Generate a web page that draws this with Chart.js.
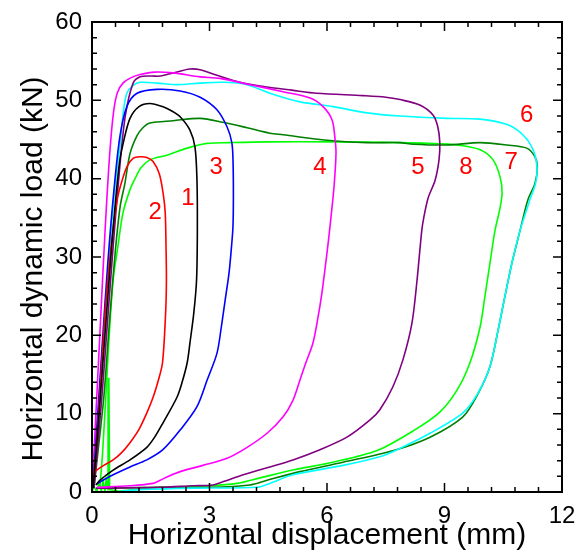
<!DOCTYPE html>
<html>
<head>
<meta charset="utf-8">
<script src="https://cdn.jsdelivr.net/npm/chart.js@4.4.1/dist/chart.umd.min.js"></script>
<style>
    html, body { margin: 0; padding: 0; background: #fff; }
</style>
</head>
<body>
<canvas id="LoadChart" width="580" height="552"></canvas>
<script>
// Loops: [displacement mm, load kN]
const loop1 = [[0.03,0.5],[0.15,8],[0.3,18],[0.45,28],[0.58,36],[0.7,42],[0.8,44.6],[0.97,47.7],[1.2,49.2],[1.48,49.6],[1.8,49.2],[2.05,48.6],[2.25,47.9],[2.5,46.2],[2.63,44],[2.68,39.8],[2.69,33.4],[2.67,27.1],[2.6,22.9],[2.5,19],[2.43,16.5],[2.3,14],[2.17,12.1],[1.81,8.8],[1.6,7],[1.4,5.7],[0.97,4.1],[0.54,2.8],[0.2,1.5],[0.1,0.9]];
const loop2 = [[0.02,0.5],[0.1,5],[0.22,14],[0.35,24],[0.5,32],[0.65,37.5],[0.77,39.8],[0.9,41.6],[1.05,42.6],[1.23,42.8],[1.4,42.7],[1.56,42.2],[1.72,40.6],[1.82,38],[1.87,35.6],[1.89,31.3],[1.9,27.1],[1.88,22.9],[1.8,16.5],[1.68,14],[1.56,12.1],[1.4,10.1],[1.2,8],[0.97,6.3],[0.75,5],[0.54,4.1],[0.3,3.4],[0.12,2.8],[0.03,2.4]];
const loop3 = [[0.02,0.5],[0.12,8],[0.25,18],[0.4,29],[0.55,38],[0.71,45.3],[0.89,49.2],[1.15,50.9],[1.66,51.4],[2.25,51.2],[2.76,50.4],[3.19,48.8],[3.45,46.6],[3.57,44.6],[3.6,42.4],[3.61,38],[3.6,34],[3.57,31.8],[3.5,28],[3.4,24.5],[3.3,21],[3.19,17.7],[2.94,14.3],[2.68,10.9],[2.25,7.9],[1.81,5.4],[1.4,4.1],[0.97,3.2],[0.54,2.2],[0.28,1.5],[0.12,1]];
const loop4 = [[0,0.5],[0.08,8],[0.2,20],[0.33,33],[0.45,43],[0.55,48.5],[0.65,51],[0.79,52.2],[1.0,52.9],[1.23,53.3],[1.6,53.6],[2.07,53.5],[2.76,53.0],[3.27,52.8],[4.03,52.0],[4.88,51.1],[5.57,50.3],[5.9,49.2],[6.13,47.5],[6.2,45.3],[6.23,43.3],[6.18,39],[6.1,35],[6.03,31.8],[5.95,28.5],[5.87,25.4],[5.76,22],[5.64,19],[5.46,16.5],[5.31,14.3],[5.13,11.7],[4.88,9.6],[4.47,7.5],[3.96,5.7],[3.45,4.3],[2.83,3.4],[2.25,2.6],[1.95,2],[1.74,1.5],[1.56,1.1],[0.97,0.8],[0.13,0.6]];
const loop5 = [[0.05,0.5],[0.13,5],[0.25,12],[0.4,22],[0.55,32],[0.7,41],[0.85,48],[1.05,52.2],[1.23,53],[1.5,53.1],[1.75,53.1],[2.07,53.5],[2.5,54],[2.76,53.9],[3.19,53.2],[3.78,52.3],[4.47,51.7],[5.1,51.3],[5.74,50.9],[6.92,50.6],[7.5,50.4],[7.86,50.1],[8.37,49.4],[8.71,48.1],[8.83,46.6],[8.88,44.6],[8.86,42.4],[8.76,39.8],[8.58,37.5],[8.47,35],[8.42,33.4],[8.3,27.1],[8.17,21.6],[7.94,16.9],[7.68,13.4],[7.35,10.5],[7.1,9.2],[6.51,7],[5.82,5.4],[5.13,4.1],[4.47,3.1],[3.86,2.2],[3.34,1.3],[3.09,0.9],[2.58,0.8],[1.74,0.6],[0.5,0.5],[0.1,0.5]];
const loop6 = [[0.02,0.5],[0.1,5],[0.22,14],[0.35,24],[0.5,34],[0.62,40.5],[0.71,44],[0.8,48.5],[0.89,50.9],[1.05,51.9],[1.23,52.3],[1.66,52.2],[2.17,52],[2.76,52.2],[3.34,52.3],[3.96,52],[4.54,50.9],[5.31,49.8],[6.15,49.2],[7.02,48.4],[7.86,48],[9.06,47.7],[9.91,47.6],[10.6,46.9],[11,45.6],[11.26,43.7],[11.36,41.5],[11.33,39.5],[11.18,37.3],[10.93,33.4],[10.72,29.2],[10.54,24.9],[10.37,20.7],[10.16,16],[9.85,12.6],[9.47,10.1],[8.63,7.5],[7.79,5.4],[7.35,4.5],[6.41,3.4],[5.13,2.2],[4.54,1.1],[4.21,0.6],[2.58,0.5],[1.2,0.3],[0.7,0.1]];
const loop7 = [[0.05,0.5],[0.15,5],[0.3,12],[0.45,22],[0.6,31],[0.72,36.5],[0.84,39.4],[0.97,43.2],[1.15,45.5],[1.3,46.5],[1.48,47.1],[2.07,47.4],[2.76,47.7],[3.34,47.2],[3.96,46.5],[4.54,45.8],[4.88,45.6],[6,44.9],[7.02,44.6],[7.86,44.6],[8.2,44.4],[9.06,44.3],[9.91,44.6],[10.6,44.3],[11.1,43.9],[11.31,42.8],[11.37,41.5],[11.31,39.4],[11.13,37.3],[10.93,33.4],[10.72,29.2],[10.54,24.9],[10.37,20.7],[10.16,16],[9.85,12.5],[9.47,9.6],[8.63,7],[7.7,5.3],[6.41,3.8],[5.31,2.6],[4.47,1.5],[4.03,0.9],[3.01,0.6],[1.74,0.6],[0.5,0.5]];
const loop8 = [[0.2,0.5],[0.27,5],[0.35,12],[0.44,20],[0.54,27.1],[0.66,31.3],[0.79,35.6],[0.97,38.6],[1.1,40],[1.25,41.4],[1.48,42.4],[1.91,43],[2.43,43.9],[2.94,44.5],[3.52,44.6],[4.47,44.7],[6.15,44.7],[7.86,44.6],[8.6,44.5],[9.32,44.3],[9.91,43.7],[10.24,42.4],[10.42,40.2],[10.47,38.2],[10.42,36.3],[10.29,33.4],[10.16,29.2],[10.03,24.9],[9.91,21.1],[9.65,16.5],[9.32,13],[8.88,10.2],[8.2,7.8],[7.28,5.3],[6.15,3.8],[5.13,2.8],[4.29,1.8],[3.7,1.1],[3.01,0.8],[1.74,0.6],[0.7,0.1]];
// noisy tail of loop 8 near the origin
const loop8Tail = [[0.7,0.1],[0.45,0.3],[0.43,14.6],[0.41,0.2],[0.36,1.6],[0.33,0.1],[0.28,1.4],[0.24,0.1],[0.18,1.2],[0.12,0],[0.05,0.8],[0,0]];

const loopColors = ['#000000','#ff0000','#0000ff','#ff00ff','#800080','#00ffff','#008000','#00ff00'];

const labelText = ['1','2','3','4','5','6','7','8'];
const labelX = [2.45,1.61,3.17,5.82,8.32,11.1,10.7,9.55];
const labelY = [37.5,35.7,41.4,41.4,41.4,48.1,42.1,41.4];

const xTicks = [0,3,6,9,12];
const yTicks = [0,10,20,30,40,50,60];
const yTitle = 'Horizontal dynamic load (kN)';

const FONT = "Arial, 'Liberation Sans', sans-serif";

function toPoints(pairs) {
    return pairs.map(p => ({x: p[0], y: p[1]}));
}

function buildDatasets() {
    const loops = [loop1, loop2, loop3, loop4, loop5, loop6, loop7, loop8];
    let sets = loops.map((loop, i) => ({
        label: 'Loop ' + (i + 1),
        data: toPoints(loop),
        borderColor: loopColors[i],
        borderWidth: 1.6,
        pointRadius: 0,
        tension: 0.3,
        fill: false
    }));
    sets.push({
        label: 'Loop 8 tail',
        data: toPoints(loop8Tail),
        borderColor: loopColors[7],
        borderWidth: 1.6,
        pointRadius: 0,
        tension: 0,
        fill: false
    });
    return sets;
}

// box round the plot with inward major and minor ticks on all sides
const frameTicks = {
    id: 'frameTicks',
    afterDatasetsDraw(chart) {
        const {ctx, chartArea: a, scales: {x, y}} = chart;
        ctx.save();
        ctx.strokeStyle = '#000';
        ctx.lineWidth = 1.5;
        ctx.beginPath();
        for (let v = 0; v <= 12.001; v += 0.6) {
            const px = x.getPixelForValue(v);
            const len = Math.abs(v / 3 - Math.round(v / 3)) < 0.01 ? 9 : 5;
            ctx.moveTo(px, a.bottom); ctx.lineTo(px, a.bottom - len);
            ctx.moveTo(px, a.top); ctx.lineTo(px, a.top + len);
        }
        for (let v = 0; v <= 60.001; v += 2) {
            const py = y.getPixelForValue(v);
            const len = v % 10 === 0 ? 9 : 5;
            ctx.moveTo(a.left, py); ctx.lineTo(a.left + len, py);
            ctx.moveTo(a.right, py); ctx.lineTo(a.right - len, py);
        }
        ctx.stroke();
        ctx.lineWidth = 2;
        ctx.strokeRect(a.left, a.top, a.right - a.left, a.bottom - a.top);
        ctx.restore();
    }
};

// curve numbers plus the y axis title (sits a bit below the plot centre)
const loopLabels = {
    id: 'loopLabels',
    afterDatasetsDraw(chart) {
        const {ctx, chartArea: a, scales: {x, y}} = chart;
        ctx.save();
        ctx.fillStyle = '#ff0000';
        ctx.font = '24px ' + FONT;
        ctx.textAlign = 'center';
        ctx.textBaseline = 'middle';
        for (let i = 0; i < labelText.length; i++) {
            ctx.fillText(labelText[i], x.getPixelForValue(labelX[i]), y.getPixelForValue(labelY[i]));
        }
        ctx.fillStyle = '#000';
        ctx.font = '30px ' + FONT;
        ctx.translate(34, (a.top + a.bottom) / 2 + 12);
        ctx.rotate(-Math.PI / 2);
        ctx.fillText(yTitle, 0, 0);
        ctx.restore();
    }
};

Chart.defaults.font.family = FONT;
Chart.defaults.color = '#000';

new Chart(document.getElementById('LoadChart'), {
    type: 'line',
    data: { datasets: buildDatasets() },
    options: {
        responsive: false,
        animation: false,
        devicePixelRatio: 1,
        layout: { padding: { top: 22, right: 18, left: 0, bottom: 0 } },
        plugins: { legend: { display: false }, tooltip: { enabled: false } },
        scales: {
            x: {
                type: 'linear',
                min: 0, max: 12,
                afterBuildTicks: s => { s.ticks = xTicks.map(v => ({value: v})); },
                afterFit: s => { s.height = 60; },
                grid: { display: false },
                border: { display: false },
                ticks: { font: { size: 24 }, padding: 2, maxRotation: 0 },
                title: { display: true, text: 'Horizontal displacement (mm)', font: { size: 30 }, padding: { top: 0, bottom: -2 } }
            },
            y: {
                type: 'linear',
                min: 0, max: 60,
                afterBuildTicks: s => { s.ticks = yTicks.map(v => ({value: v})); },
                afterFit: s => { s.width = 92; },
                grid: { display: false },
                border: { display: false },
                ticks: { font: { size: 24 }, padding: 2 },
                title: { display: false }
            }
        }
    },
    plugins: [frameTicks, loopLabels]
});
</script>
</body>
</html>
